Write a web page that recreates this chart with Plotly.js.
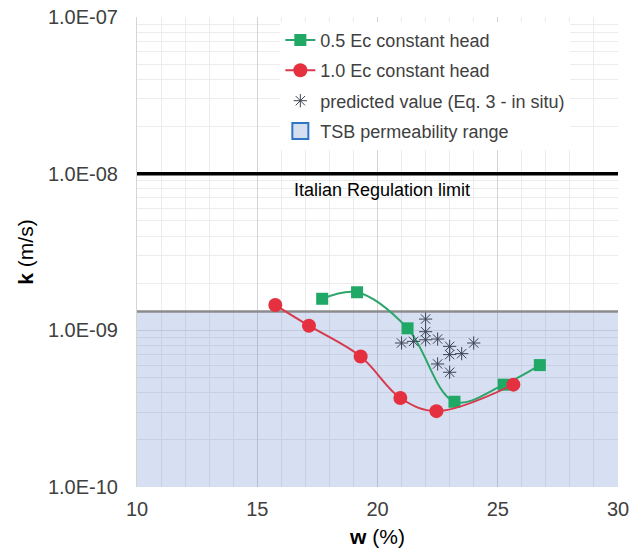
<!DOCTYPE html>
<html>
<head>
<meta charset="utf-8">
<script src="https://cdn.plot.ly/plotly-3.0.1.min.js"></script>
<style>
  html, body { margin: 0; padding: 0; background: #fff; }
  #chart { width: 644px; height: 553px; }
</style>
</head>
<body>
<div id="chart"></div>
<script>
// Water content w (%) and hydraulic conductivity k (m/s)
const wHalfEc = [17.7, 19.15, 21.25, 23.2, 25.25, 26.75];
const kHalfEc = [1.59e-9, 1.75e-9, 1.03e-9, 3.5e-10, 4.5e-10, 6.0e-10];

const wFullEc = [15.75, 17.15, 19.3, 20.95, 22.45, 25.65];
const kFullEc = [1.45e-9, 1.07e-9, 6.8e-10, 3.7e-10, 3.05e-10, 4.5e-10];

// Predicted values (Eq. 3 - in situ)
const wPred = [21.0, 21.5, 22.0, 22.0, 22.0, 22.5, 22.5, 23.0, 23.0, 23.0, 23.5, 24.0];
const kPred = [8.3e-10, 8.5e-10, 1.18e-9, 9.8e-10, 8.7e-10, 8.8e-10, 6.1e-10, 7.9e-10, 7.0e-10, 5.4e-10, 7.1e-10, 8.3e-10];

// TSB permeability range and regulatory limit
const tsbLower = 1.0e-10;
const tsbUpper = 1.32e-9;
const regulationLimit = 1.0e-8;

const wRange = [10, 30];
const kTickVals = [1e-10, 1e-9, 1e-8, 1e-7];
const kTickText = ['1.0E-10', '1.0E-09', '1.0E-08', '1.0E-07'];

// minor log gridlines (2..9 within each decade)
const kMinor = [];
for (let e = -10; e < -7; e++) {
  for (let d = 2; d <= 9; d++) kMinor.push(d * Math.pow(10, e));
}

const font = 'Liberation Sans, Arial, sans-serif';

const traces = [
  {
    // shaded TSB band
    x: [wRange[0], wRange[1], wRange[1], wRange[0], wRange[0]],
    y: [tsbLower, tsbLower, tsbUpper, tsbUpper, tsbLower],
    mode: 'lines', fill: 'toself',
    fillcolor: 'rgba(68,114,196,0.22)',
    line: { width: 0 },
    showlegend: false, hoverinfo: 'skip'
  },
  {
    x: wRange, y: [tsbUpper, tsbUpper],
    mode: 'lines', line: { color: '#8c8c8c', width: 2.5 },
    showlegend: false, hoverinfo: 'skip'
  },
  {
    x: wRange, y: [regulationLimit, regulationLimit],
    mode: 'lines', line: { color: '#000000', width: 3.5 },
    showlegend: false, hoverinfo: 'skip'
  },
  {
    name: '0.5 Ec constant head',
    x: wHalfEc, y: kHalfEc,
    mode: 'lines+markers',
    line: { color: '#2ca56a', width: 2, shape: 'spline', smoothing: 1 },
    marker: { symbol: 'square', size: 12, color: '#1fa866' },
    legendgroup: 'a'
  },
  {
    name: '1.0 Ec constant head',
    x: wFullEc, y: kFullEc,
    mode: 'lines+markers',
    line: { color: '#d8394c', width: 2, shape: 'spline', smoothing: 1 },
    marker: { symbol: 'circle', size: 14, color: '#e4303f' },
    legendgroup: 'b'
  },
  {
    name: 'predicted value (Eq. 3 - in situ)',
    x: wPred, y: kPred,
    mode: 'markers',
    marker: { symbol: 'asterisk-open', size: 11, color: '#3c4352', line: { width: 1, color: '#3c4352' } },
    legendgroup: 'c'
  },
  {
    // legend entry for the band (point lies outside the visible w range)
    name: 'TSB permeability range',
    x: [0], y: [tsbUpper],
    mode: 'markers',
    marker: { symbol: 'square', size: 18, color: '#d6dff0', line: { color: '#2e75c6', width: 2 } },
    legendgroup: 'd', hoverinfo: 'skip'
  }
];

const layout = {
  width: 644, height: 553,
  margin: { l: 137, r: 26, t: 17, b: 66 },
  paper_bgcolor: '#ffffff', plot_bgcolor: '#ffffff',
  font: { family: font, color: '#404040' },
  showlegend: true,
  legend: {
    x: 0.298, y: 0.99, xanchor: 'left', yanchor: 'top',
    bgcolor: '#ffffff', borderwidth: 0,
    font: { family: font, size: 18, color: '#404040' },
    traceorder: 'grouped', tracegroupgap: 4
  },
  xaxis: {
    range: wRange, tickmode: 'array', tickvals: [10, 15, 20, 25, 30],
    showgrid: true, gridcolor: '#d4d4d4', gridwidth: 1,
    minor: { dtick: 1, showgrid: true, gridcolor: '#ececec', gridwidth: 1 },
    zeroline: false, showline: false, ticks: '',
    ticklabelstandoff: 8,
    tickfont: { family: font, size: 20, color: '#404040' },
    title: { text: '<b>w</b> (%)', font: { family: font, size: 21, color: '#000000' }, standoff: 10 }
  },
  yaxis: {
    type: 'log', range: [-10, -7],
    tickmode: 'array', tickvals: kTickVals, ticktext: kTickText,
    showgrid: true, gridcolor: '#e2e2e2', gridwidth: 1,
    minor: { tickmode: 'array', tickvals: kMinor, showgrid: true, gridcolor: '#ececec', gridwidth: 1 },
    zeroline: false, showline: true, linecolor: '#d4d4d4', linewidth: 1,
    ticks: '', ticklabelstandoff: 14,
    tickfont: { family: font, size: 20, color: '#404040' },
    title: { text: '<b>k</b> (m/s)', font: { family: font, size: 21, color: '#000000' }, standoff: 8 }
  },
  annotations: [
    {
      x: 20.2, y: Math.log10(regulationLimit), xref: 'x', yref: 'y',
      text: 'Italian Regulation limit', showarrow: false,
      xanchor: 'center', yanchor: 'top', yshift: -4,
      font: { family: font, size: 18, color: '#000000' }
    }
  ]
};

Plotly.newPlot('chart', traces, layout, { displayModeBar: false, staticPlot: true });
</script>
</body>
</html>
